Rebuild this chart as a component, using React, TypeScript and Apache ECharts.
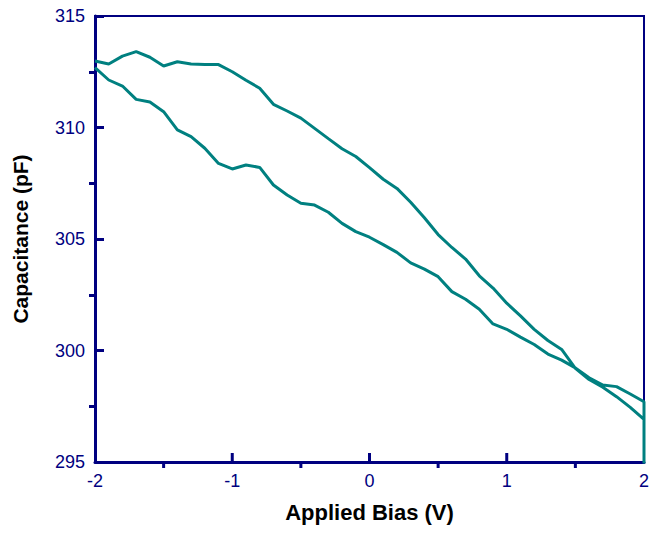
import React, { useEffect, useRef } from "react";
import * as echarts from "echarts";

const biasValues = [
  -2, -1.9, -1.8, -1.7, -1.6, -1.5, -1.4, -1.3, -1.2, -1.1, -1.0, -0.9, -0.8, -0.7, -0.6, -0.5, -0.4, -0.3, -0.2, -0.1,
  0, 0.1, 0.2, 0.3, 0.4, 0.5, 0.6, 0.7, 0.8, 0.9, 1.0, 1.1, 1.2, 1.3, 1.4, 1.5, 1.6, 1.7, 1.8, 1.9, 2.0,
];

// lower branch (sweep -2 -> 2)
const lowerBranch = [
  312.68, 312.13, 311.86, 311.26, 311.14, 310.71, 309.89, 309.59, 309.07, 308.39, 308.14, 308.32, 308.21, 307.42,
  306.97, 306.6, 306.52, 306.2, 305.7, 305.33, 305.08, 304.75, 304.4, 303.93, 303.65, 303.31, 302.64, 302.3, 301.85,
  301.19, 300.95, 300.6, 300.27, 299.84, 299.57, 299.22, 298.78, 298.45, 298.38, 298.05, 297.7,
];

// upper branch (sweep 2 -> -2), listed by bias ascending
const upperBranch = [
  312.98, 312.85, 313.2, 313.4, 313.15, 312.76, 312.95, 312.85, 312.83, 312.82, 312.5, 312.12, 311.76, 311.04,
  310.74, 310.42, 309.96, 309.5, 309.05, 308.7, 308.2, 307.68, 307.27, 306.65, 305.95, 305.2, 304.62, 304.1, 303.35,
  302.8, 302.12, 301.55, 300.95, 300.45, 300.05, 299.2, 298.7, 298.35, 297.93, 297.45, 296.91,
];

// turning point at +2 V (drops below the axis range)
const turnPoint: [number, number] = [2, 294.5];

const xTicksMajor = [-1, 0, 1];
const xTicksMinor = [-1.5, -0.5, 0.5, 1.5];
const yAxisMin = 295;

const NAVY = "#000080";
const TEAL = "#008080";
const FONT = "Liberation Sans, Arial, sans-serif";

export default function App() {
  const ref = useRef<HTMLDivElement>(null);
  useEffect(() => {
    if (!ref.current) return;
    const chart = echarts.init(ref.current, undefined, { renderer: "svg" });
    const loop: [number, number][] = [];
    biasValues.forEach((b, i) => loop.push([b, lowerBranch[i]]));
    loop.push(turnPoint);
    for (let i = biasValues.length - 1; i >= 0; i--) loop.push([biasValues[i], upperBranch[i]]);

    chart.setOption({
      animation: false,
      backgroundColor: "#ffffff",
      grid: {
        left: 95,
        right: 10,
        top: 16,
        bottom: 71,
        show: true,
        borderColor: NAVY,
        borderWidth: 2,
        backgroundColor: "transparent",
      },
      xAxis: {
        type: "value",
        min: -2,
        max: 2,
        interval: 1,
        position: "bottom",
        name: "Applied Bias (V)",
        nameLocation: "middle",
        nameGap: 39,
        nameTextStyle: { color: "#000", fontWeight: "bold", fontSize: 22, fontFamily: FONT },
        axisLine: { show: true, onZero: false, lineStyle: { color: NAVY, width: 3 } },
        axisTick: { show: false },
        minorTick: { show: false },
        axisLabel: { color: NAVY, fontSize: 18, fontFamily: FONT, margin: 10 },
        splitLine: { show: false },
      },
      yAxis: {
        type: "value",
        min: 295,
        max: 315,
        interval: 5,
        position: "left",
        name: "Capacitance (pF)",
        nameLocation: "middle",
        nameGap: 64,
        nameRotate: 90,
        nameTextStyle: { color: "#000", fontWeight: "bold", fontSize: 21, fontFamily: FONT },
        axisLine: { show: true, onZero: false, lineStyle: { color: NAVY, width: 3 } },
        axisTick: { show: true, inside: true, length: 9, lineStyle: { color: NAVY, width: 3 } },
        minorTick: { show: true, splitNumber: 2, length: -6, lineStyle: { color: NAVY, width: 3 } },
        axisLabel: { color: NAVY, fontSize: 18, fontFamily: FONT, margin: 10 },
        splitLine: { show: false },
      },
      series: [
        {
          type: "line",
          data: loop,
          showSymbol: false,
          clip: true,
          lineStyle: { color: TEAL, width: 3 },
          z: 2,
        },
        {
          // inward major ticks on the bias axis
          type: "scatter",
          data: xTicksMajor.map((v) => [v, yAxisMin]),
          symbol: "rect",
          symbolSize: [3, 9],
          symbolOffset: [0, -4.5],
          clip: false,
          silent: true,
          z: 5,
          itemStyle: { color: NAVY, opacity: 1 },
        },
        {
          // outward minor ticks on the bias axis
          type: "scatter",
          data: xTicksMinor.map((v) => [v, yAxisMin]),
          symbol: "rect",
          symbolSize: [3, 6],
          symbolOffset: [0, 3],
          clip: false,
          silent: true,
          z: 5,
          itemStyle: { color: NAVY, opacity: 1 },
        },
      ],
    });

    return () => chart.dispose();
  }, []);
  return <div ref={ref} style={{ width: 654, height: 533, position: "absolute", left: 0, top: 0 }} />;
}
